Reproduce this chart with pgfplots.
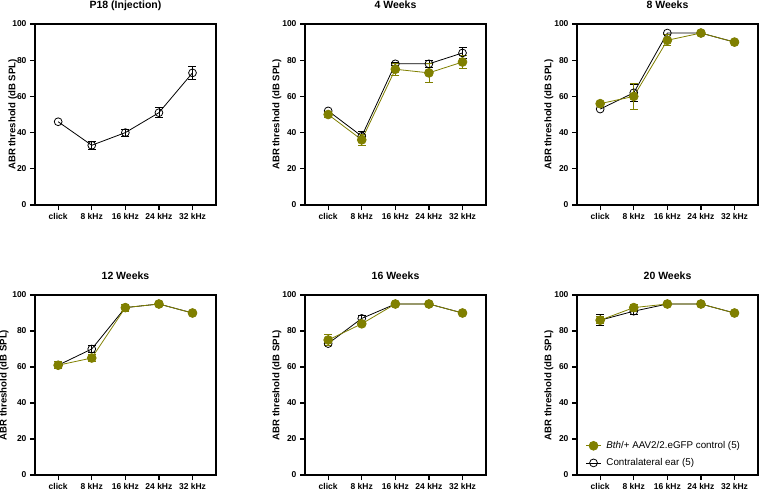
\documentclass[border=0pt]{standalone}
\usepackage{pgfplots}
\pgfplotsset{compat=1.18}
\usepackage{fontspec}
\setmainfont{Liberation Sans}
\definecolor{gfp}{RGB}{128,128,0}

\pgfplotsset{
  abr/.style={
    scale only axis, width=181pt, height=181pt,
    anchor=south west,
    xmin=-0.69, xmax=4.7, ymin=0, ymax=100,
    xtick={0,1,2,3,4},
    xticklabels={click,8 kHz,16 kHz,24 kHz,32 kHz},
    ytick={0,20,40,60,80,100},
    tick align=outside, xtick pos=bottom, ytick pos=left,
    major tick length=5pt,
    axis line style={line width=1.6pt},
    every tick/.style={black, line width=1.2pt},
    /pgf/number format/assume math mode=true,
    ticklabel style={font=\bfseries\fontsize{8.5}{10}\selectfont},
    yticklabel style={anchor=east, xshift=0pt},
    ylabel={ABR threshold (dB SPL)},
    ylabel style={font=\bfseries\fontsize{9.6}{11}\selectfont,
      at={(axis description cs:-0.155,0.5)}, anchor=center, rotate=0},
    every axis title shift=0pt,
    every axis title/.style={font=\bfseries\fontsize{10.5}{12}\selectfont,
      at={(axis description cs:0.5,1)}, anchor=base, yshift=15.3pt},
    clip=false,
  },
  ctrl/.style={black, line width=0.8pt, mark=o, mark size=3.9pt,
    mark options={line width=0.8pt},
    error bars/.cd, y dir=both, y explicit,
    error bar style={line width=0.8pt},
    error mark options={rotate=90, mark size=4pt, line width=0.8pt}},
  aav/.style={gfp, line width=0.8pt, mark=*, mark size=4.4pt,
    mark options={fill=gfp, draw=gfp},
    error bars/.cd, y dir=both, y explicit,
    error bar style={line width=0.8pt},
    error mark options={rotate=90, mark size=4pt, line width=0.8pt}},
}

\begin{document}
\begin{tikzpicture}
\useasboundingbox (0,0) rectangle (760pt,491pt);

% P18
\begin{axis}[abr, at={(35pt,286pt)}, title={P18 (Injection)},
  ylabel style={at={(axis description cs:-0.122,0.5)}}]
\addplot[ctrl] coordinates {(0,46) (1,33) +- (0,2.4) (2,40) +- (0,2) (3,51) +- (0,2.8) (4,73) +- (0,3.7)};
\end{axis}

% 4 weeks
\begin{axis}[abr, at={(305pt,286pt)}, title={4 Weeks}]
\addplot[ctrl] coordinates {(0,52) (1,38) +- (0,2.5) (2,78) +- (0,1) (3,78) +- (0,2) (4,84) +- (0,2.8)};
\addplot[aav] coordinates {(0,50) +- (0,1.5) (1,36) +- (0,3.2) (2,75) +- (0,3.3) (3,73) +- (0,5.4) (4,79) +- (0,3.7)};
\end{axis}

% 8 weeks
\begin{axis}[abr, at={(577pt,286pt)}, title={8 Weeks}]
\addplot[ctrl] coordinates {(0,53) (1,62) +- (0,4.5) (2,95) (3,95) (4,90)};
\addplot[aav] coordinates {(0,56) (1,60) +- (0,7) (2,91) +- (0,3) (3,95) (4,90)};
\end{axis}

% 12 weeks
\begin{axis}[abr, height=180pt, at={(35pt,16pt)}, title={12 Weeks},
  ylabel style={at={(axis description cs:-0.171,0.5)}}]
\addplot[ctrl] coordinates {(0,61) +- (0,2) (1,70) +- (0,2) (2,93) (3,95) (4,90)};
\addplot[aav] coordinates {(0,61) +- (0,2) (1,65) +- (0,2) (2,93) +- (0,2) (3,95) (4,90)};
\end{axis}

% 16 weeks
\begin{axis}[abr, height=180pt, at={(305pt,16pt)}, title={16 Weeks}]
\addplot[ctrl] coordinates {(0,73) +- (0,1) (1,87) +- (0,1.5) (2,95) (3,95) (4,90)};
\addplot[aav] coordinates {(0,75) +- (0,3) (1,84) +- (0,1) (2,95) (3,95) (4,90)};
\end{axis}

% 20 weeks
\begin{axis}[abr, height=180pt, at={(577pt,16pt)}, title={20 Weeks},
  reverse legend, legend cell align=left,
  legend image code/.code={\draw[mark repeat=2,mark phase=2,#1] plot coordinates {(0pt,0pt) (7.5pt,0pt) (15pt,0pt)};},
  legend style={draw=none, fill=none, at={(axis description cs:0.03,0.02)}, anchor=south west,
    font=\fontsize{9.8}{11}\selectfont, row sep=4.5pt, column sep=3pt}]
\addplot[ctrl] coordinates {(0,86) +- (0,3) (1,91) +- (0,1.5) (2,95) (3,95) (4,90)};
\addlegendentry{Contralateral ear (5)}
\addplot[aav] coordinates {(0,86) +- (0,2) (1,93) +- (0,2) (2,95) (3,95) (4,90)};
\addlegendentry{\textit{Bth}/+ AAV2/2.eGFP control (5)}
\end{axis}
\end{tikzpicture}
\end{document}
